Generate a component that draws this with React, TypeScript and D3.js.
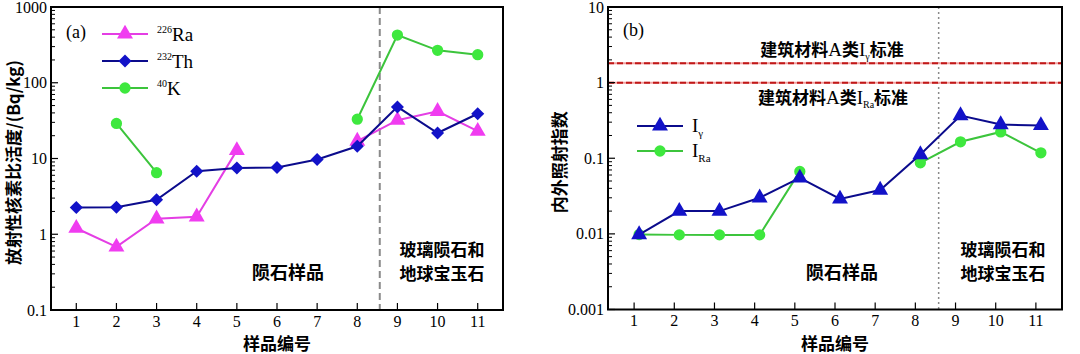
import React, { useEffect, useRef } from 'react';
import * as d3 from 'd3';

// sample numbers on the x axis
const samples = [1, 2, 3, 4, 5, 6, 7, 8, 9, 10, 11];

// (a) specific activity, Bq/kg (null = not measured)
const ra226 = [1.2, 0.68, 1.6, 1.7, 12.8, null, null, 17, 32, 42, 23];
const th232 = [2.25, 2.27, 2.85, 6.8, 7.5, 7.6, 9.7, 14.5, 48, 21.7, 39];
const k40 = [null, 29, 6.5, null, null, null, null, 33, 426, 268, 235];

// (b) internal / external exposure index
const iGamma = [0.0098, 0.02, 0.02, 0.03, 0.055, 0.029, 0.038, 0.112, 0.367, 0.279, 0.271];
const iRa = [0.0098, 0.0097, 0.0097, 0.0097, 0.067, null, null, 0.087, 0.165, 0.223, 0.118];

// standard limits for building materials (class A)
const limitGamma = 1.8;
const limitRa = 1.0;

const aTicks = [0.1, 1, 10, 100, 1000];
const bTicks = [0.001, 0.01, 0.1, 1, 10];

const SERIF = '"Liberation Serif", "Times New Roman", serif';
const CJK = '"Noto Sans CJK SC", sans-serif';

const App: React.FC = () => {
    const ref = useRef<SVGSVGElement>(null);

    useEffect(() => {
        document.body.style.margin = '0';
        const svg = d3.select(ref.current);
        svg.selectAll('*').remove();

        // draws the frame, log y axis with minor ticks and x ticks
        function frame(g, x, y, ticks, left, right, top, bottom, yTitle, yTitleX) {
            const [lo, hi] = y.domain();
            // minor ticks
            const minors = [];
            for (let d = lo; d < hi * 0.999; d *= 10) {
                for (let m = 2; m <= 9; m++) minors.push(d * m);
            }
            g.append('g').selectAll('line').data(minors).join('line')
                .attr('x1', left).attr('x2', left + 4)
                .attr('y1', d => y(d)).attr('y2', d => y(d))
                .attr('stroke', '#000').attr('stroke-width', 1);
            g.append('g').selectAll('line').data(ticks).join('line')
                .attr('x1', left).attr('x2', left + 7)
                .attr('y1', d => y(d)).attr('y2', d => y(d))
                .attr('stroke', '#000').attr('stroke-width', 1.2);
            g.append('g').selectAll('text').data(ticks).join('text')
                .attr('x', left - 4).attr('y', d => y(d))
                .attr('dy', '0.35em')
                .attr('text-anchor', 'end')
                .attr('font-family', SERIF).attr('font-size', 16)
                .text(d => String(d));

            // x ticks inward
            g.append('g').selectAll('line').data(samples).join('line')
                .attr('x1', d => x(d)).attr('x2', d => x(d))
                .attr('y1', bottom).attr('y2', bottom - 7)
                .attr('stroke', '#000').attr('stroke-width', 1.2);
            g.append('g').selectAll('text').data(samples).join('text')
                .attr('x', d => x(d)).attr('y', bottom + 16.5)
                .attr('text-anchor', 'middle')
                .attr('font-family', SERIF).attr('font-size', 16)
                .text(d => d);

            g.append('rect')
                .attr('x', left).attr('y', top)
                .attr('width', right - left).attr('height', bottom - top)
                .attr('fill', 'none').attr('stroke', '#000').attr('stroke-width', 2);

            g.append('text')
                .attr('x', (left + right) / 2).attr('y', 350)
                .attr('text-anchor', 'middle')
                .attr('font-family', CJK).attr('font-size', 17).attr('font-weight', 'bold')
                .text('样品编号');

            g.append('text')
                .attr('transform', `translate(${yTitleX},${(top + bottom) / 2 + 4}) rotate(-90)`)
                .attr('text-anchor', 'middle')
                .attr('dy', '0.35em')
                .attr('font-family', CJK).attr('font-size', 17).attr('font-weight', 'bold')
                .text(yTitle);
        }

        function series(g, x, y, values, color, markColor, symbol, size, rotate = 0, dx = 0) {
            const pts = samples.map((s, i) => ({ s, v: values[i] }));
            const line = d3.line()
                .defined(d => d.v != null)
                .x(d => x(d.s) + dx)
                .y(d => y(d.v));
            g.append('path')
                .attr('d', line(pts))
                .attr('fill', 'none')
                .attr('stroke', color)
                .attr('stroke-width', 2);
            g.append('g').selectAll('path').data(pts.filter(d => d.v != null)).join('path')
                .attr('transform', d => `translate(${x(d.s) + dx},${y(d.v)}) rotate(${rotate})`)
                .attr('d', d3.symbol().type(symbol).size(size)())
                .attr('fill', markColor);
        }

        function legendItem(g, lx, ly, color, markColor, symbol, size, rotate = 0) {
            g.append('line')
                .attr('x1', lx).attr('x2', lx + 46)
                .attr('y1', ly).attr('y2', ly)
                .attr('stroke', color).attr('stroke-width', 2);
            g.append('path')
                .attr('transform', `translate(${lx + 23},${ly}) rotate(${rotate})`)
                .attr('d', d3.symbol().type(symbol).size(size)())
                .attr('fill', markColor);
        }

        function twoLines(g, cx, lines) {
            lines.forEach((s, i) => {
                g.append('text').attr('x', cx).attr('y', 256 + i * 24).attr('text-anchor', 'middle')
                    .attr('font-family', CJK).attr('font-size', 17).attr('font-weight', 'bold')
                    .text(s);
            });
        }

        // ---------------- panel (a) ----------------
        const aL = 51, aR = 503, aT = 7, aB = 310;
        const xa = d3.scaleLinear().domain([0.37, 11.63]).range([aL, aR]);
        const ya = d3.scaleLog().domain([0.1, 1000]).range([aB, aT]);
        const ga = svg.append('g');

        ga.append('line')
            .attr('x1', xa(8.56)).attr('x2', xa(8.56))
            .attr('y1', aT).attr('y2', aB)
            .attr('stroke', '#8a8a8a').attr('stroke-width', 2)
            .attr('stroke-dasharray', '7,4');

        frame(ga, xa, ya, aTicks, aL, aR, aT, aB, '放射性核素比活度/(Bq/kg)', 14);

        const magenta = '#e43ee4', magentaMark = '#f03cf0';
        const navy = '#0b0b8c', blueMark = '#1212c8';
        const green = '#3cc43c', greenMark = '#3ee83e';

        series(ga, xa, ya, k40, green, greenMark, d3.symbolCircle, 100);
        series(ga, xa, ya, ra226, magenta, magentaMark, d3.symbolTriangle, 110);
        series(ga, xa, ya, th232, navy, blueMark, d3.symbolSquare, 85, 45);

        ga.append('text').attr('x', 66).attr('y', 38)
            .attr('font-family', SERIF).attr('font-size', 18).text('(a)');

        const aLeg = [
            { mass: '226', el: 'Ra', color: magenta, mark: magentaMark, sym: d3.symbolTriangle, size: 110, rot: 0 },
            { mass: '232', el: 'Th', color: navy, mark: blueMark, sym: d3.symbolSquare, size: 85, rot: 45 },
            { mass: '40', el: 'K', color: green, mark: greenMark, sym: d3.symbolCircle, size: 100, rot: 0 },
        ];
        aLeg.forEach((d, i) => {
            const ly = 34 + i * 27;
            legendItem(ga, 102, ly, d.color, d.mark, d.sym, d.size, d.rot);
            const t = ga.append('text').attr('x', 157).attr('y', ly + 7)
                .attr('font-family', SERIF).attr('font-size', 19);
            t.append('tspan').attr('font-size', 10).attr('dy', -8).text(d.mass);
            t.append('tspan').attr('dy', 8).text(d.el);
        });

        ga.append('text').attr('x', 288).attr('y', 279).attr('text-anchor', 'middle')
            .attr('font-family', CJK).attr('font-size', 18).attr('font-weight', 'bold')
            .text('陨石样品');
        twoLines(ga, 442, ['玻璃陨石和', '地球宝玉石']);

        // ---------------- panel (b) ----------------
        const bL = 608, bR = 1062, bT = 7, bB = 309.5;
        const xb = d3.scaleLinear().domain([0.35, 11.65]).range([bL, bR]);
        const yb = d3.scaleLog().domain([0.001, 10]).range([bB, bT]);
        const gb = svg.append('g');

        gb.append('line')
            .attr('x1', xb(8.58)).attr('x2', xb(8.58))
            .attr('y1', bT).attr('y2', bB)
            .attr('stroke', '#8a8a8a').attr('stroke-width', 1.5)
            .attr('stroke-dasharray', '2,3');

        [limitGamma, limitRa].forEach(v => {
            gb.append('line')
                .attr('x1', bL).attr('x2', bR)
                .attr('y1', yb(v)).attr('y2', yb(v))
                .attr('stroke', '#f2a0a0').attr('stroke-width', 2);
            gb.append('line')
                .attr('x1', bL).attr('x2', bR)
                .attr('y1', yb(v)).attr('y2', yb(v))
                .attr('stroke', '#c01818').attr('stroke-width', 2)
                .attr('stroke-dasharray', '6,3');
        });

        frame(gb, xb, yb, bTicks, bL, bR, bT, bB, '内外照射指数', 560);

        series(gb, xb, yb, iRa, green, greenMark, d3.symbolCircle, 100, 0, 5);
        series(gb, xb, yb, iGamma, navy, blueMark, d3.symbolTriangle, 110, 0, 5);

        gb.append('text').attr('x', 623).attr('y', 36)
            .attr('font-family', SERIF).attr('font-size', 18).text('(b)');

        function stdLabel(cx, cy, sub) {
            const t = gb.append('text').attr('x', cx).attr('y', cy).attr('text-anchor', 'middle')
                .attr('font-family', CJK).attr('font-size', 17).attr('font-weight', 'bold');
            t.append('tspan').text('建筑材料');
            t.append('tspan').attr('font-family', SERIF).attr('font-weight', 'normal').attr('font-size', 19).text('A');
            t.append('tspan').text('类');
            t.append('tspan').attr('font-family', SERIF).attr('font-weight', 'normal').attr('font-size', 19).text('I');
            t.append('tspan').attr('font-family', SERIF).attr('font-weight', 'normal').attr('font-size', 10).attr('dy', 4).text(sub);
            t.append('tspan').attr('dy', -4).text('标准');
        }
        stdLabel(832, 56, 'γ');
        stdLabel(833, 104, 'Ra');

        const bLeg = [
            { sub: 'γ', color: navy, mark: blueMark, sym: d3.symbolTriangle, size: 110 },
            { sub: 'Ra', color: green, mark: greenMark, sym: d3.symbolCircle, size: 100 },
        ];
        bLeg.forEach((d, i) => {
            const ly = 126 + i * 25;
            legendItem(gb, 637, ly, d.color, d.mark, d.sym, d.size);
            const t = gb.append('text').attr('x', 692).attr('y', ly + 6)
                .attr('font-family', SERIF).attr('font-size', 19);
            t.append('tspan').text('I');
            t.append('tspan').attr('font-size', 11).attr('dy', 5).text(d.sub);
        });

        gb.append('text').attr('x', 842).attr('y', 279).attr('text-anchor', 'middle')
            .attr('font-family', CJK).attr('font-size', 18).attr('font-weight', 'bold')
            .text('陨石样品');
        twoLines(gb, 1003, ['玻璃陨石和', '地球宝玉石']);
    }, []);

    return <svg ref={ref} width={1080} height={354} style={{ display: 'block', background: '#fff' }} />;
};

export default App;
